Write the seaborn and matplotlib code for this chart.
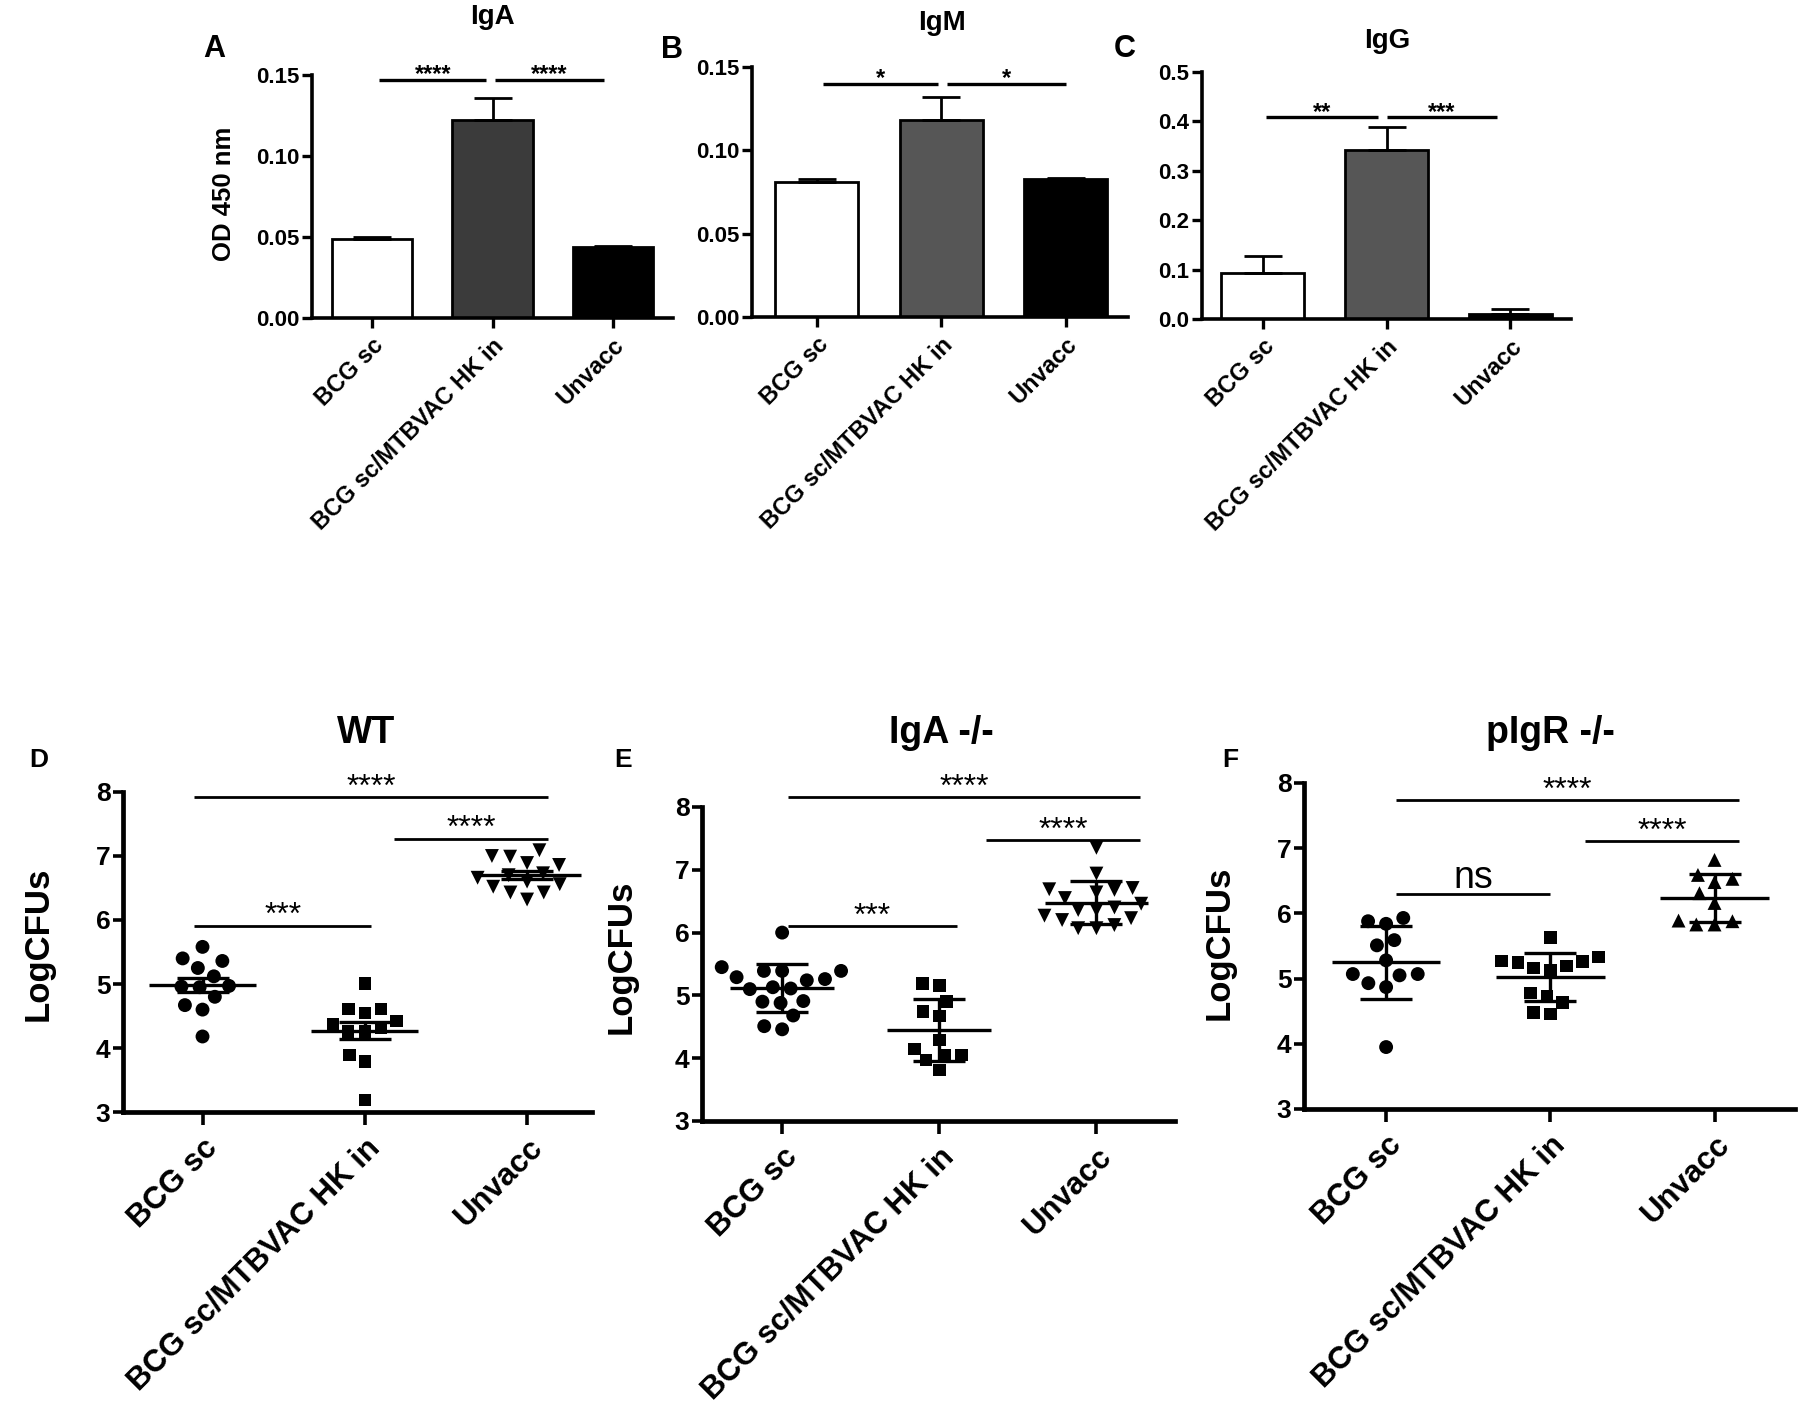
"""
Antibody ELISA (A-C) and lung CFU counts (D-F) by vaccination group.
"""
import numpy as np
import pandas as pd
import matplotlib
matplotlib.use("Agg")
import matplotlib.pyplot as plt
import seaborn as sns

sns.set_style("ticks")
plt.rcParams["font.family"] = ["Liberation Sans", "DejaVu Sans"]
plt.rcParams.update({
    "font.weight": "bold",
    "axes.edgecolor": "black",
    "text.color": "black",
    "xtick.color": "black",
    "ytick.color": "black",
    "axes.labelcolor": "black",
})

GROUPS = ["BCG sc", "BCG sc/MTBVAC HK in", "Unvacc"]

# ELISA OD 450 nm: bar heights and upper error
IGA_MEAN = [0.049, 0.122, 0.044]
IGA_ERR = [0.001, 0.014, 0.0007]
IGM_MEAN = [0.081, 0.118, 0.083]
IGM_ERR = [0.002, 0.014, 0.0006]
IGG_MEAN = [0.094, 0.343, 0.011]
IGG_ERR = [0.033, 0.046, 0.009]

# LogCFUs, individual animals
WT_BCG = [5.58, 5.40, 5.36, 5.25, 5.12, 4.97, 4.95, 4.96, 4.80, 4.67, 4.60, 4.18]
WT_MTB = [5.01, 4.61, 4.61, 4.55, 4.42, 4.37, 4.31, 4.26, 4.26, 3.89, 3.79, 3.19]
WT_UNV = [7.09, 6.99, 7.00, 6.86, 6.89, 6.73, 6.56, 6.43, 6.32, 6.43, 6.52, 6.60, 6.66, 6.70]

IGAKO_BCG = [6.00, 5.45, 5.39, 5.39, 5.39, 5.29, 5.24, 5.26, 5.13, 5.10, 5.11,
             4.90, 4.88, 4.91, 4.68, 4.46, 4.51]
IGAKO_MTB = [5.19, 5.16, 4.90, 4.74, 4.67, 4.29, 4.05, 4.15, 4.05, 3.97, 3.81]
IGAKO_UNV = [7.35, 6.94, 6.69, 6.64, 6.71, 6.68, 6.55, 6.46, 6.36, 6.20, 6.12,
             6.07, 6.07, 6.23, 6.27, 6.36, 6.40]

PIGR_BCG = [5.93, 5.84, 5.88, 5.59, 5.51, 5.28, 5.07, 4.93, 4.87, 5.05, 5.07, 3.95]
PIGR_MTB = [5.63, 5.33, 5.27, 5.26, 5.25, 5.19, 5.13, 5.16, 4.78, 4.73, 4.63, 4.46, 4.48]
PIGR_UNV = [6.82, 6.59, 6.53, 6.48, 6.31, 6.16, 5.88, 5.83, 5.83, 5.89]

W, H = 1805, 1402
fig = plt.figure(figsize=(W / 100, H / 100), dpi=100)


def px_axes(left, top, right, bottom):
    return fig.add_axes([left / W, 1 - bottom / H, (right - left) / W, (bottom - top) / H])


def ftext(x, y, s, va="baseline", **kw):
    fig.text(x / W, 1 - y / H, s, ha="center", va=va, **kw)


def add_sig(ax, x1, x2, y, label, lw, size, weight="bold", offset=0):
    ax.plot([x1, x2], [y, y], color="black", lw=lw, clip_on=False,
            solid_capstyle="butt", zorder=10)
    ax.annotate(label, xy=((x1 + x2) / 2, y), xytext=(0, offset), textcoords="offset points",
                ha="center", va="baseline", fontsize=size, fontweight=weight,
                annotation_clip=False)


def bar_panel(ax, means, errs, mid_color, ylim, yticks, fmt, xlim, sigs):
    colors = {GROUPS[0]: "white", GROUPS[1]: mid_color, GROUPS[2]: "black"}
    sns.barplot(x=GROUPS, y=means, hue=GROUPS, palette=colors, legend=False,
                saturation=1, width=0.67, edgecolor="black", linewidth=2,
                errorbar=None, ax=ax)
    ax.errorbar(np.arange(3), means, yerr=[np.zeros(3), errs], fmt="none",
                ecolor="black", elinewidth=2, capsize=14, capthick=2)
    ax.set_ylim(*ylim)
    ax.set_xlim(*xlim)
    ax.set_yticks(yticks)
    ax.set_yticklabels([fmt.format(v) for v in yticks])
    ax.set_xticks(range(3))
    ax.set_xticklabels(GROUPS, rotation=45, ha="right", rotation_mode="anchor")
    ax.tick_params(axis="y", labelsize=16, length=7.5, width=2.4, pad=1.5)
    ax.tick_params(axis="x", labelsize=17, length=7.5, width=2.4, pad=4)
    ax.set_xlabel("")
    ax.set_ylabel("")
    for s in ["top", "right"]:
        ax.spines[s].set_visible(False)
    for s in ["left", "bottom"]:
        ax.spines[s].set_linewidth(2.6)
    for x1, x2, y, label in sigs:
        add_sig(ax, x1, x2, y, label, lw=2.4, size=17, offset=-1)


def cfu_panel(ax, bcg, mtb, unv, up_marker, err_kind, xlim, sigs):
    df = pd.DataFrame({
        "group": [GROUPS[0]] * len(bcg) + [GROUPS[1]] * len(mtb) + [GROUPS[2]] * len(unv),
        "logcfu": bcg + mtb + unv,
    })
    markers = ["o", "s", up_marker]
    sizes = [10, 9, 10]
    # invisible edge width only widens the swarm spacing (GraphPad-like gaps)
    for g, m, sz in zip(GROUPS, markers, sizes):
        sns.swarmplot(data=df[df["group"] == g], x="group", y="logcfu", order=GROUPS,
                      marker=m, color="black", size=sz, linewidth=2.5,
                      edgecolor="none", ax=ax)
    stats = df.groupby("group", sort=False)["logcfu"].agg(["mean", "std", "count"])
    for i, g in enumerate(GROUPS):
        m = stats.loc[g, "mean"]
        e = stats.loc[g, "std"]
        if err_kind == "sem":
            e = e / np.sqrt(stats.loc[g, "count"])
        ax.hlines(m, i - 0.33, i + 0.33, color="black", lw=2.4, zorder=5)
        ax.errorbar(i, m, yerr=e, fmt="none", ecolor="black", elinewidth=2.4,
                    capsize=19, capthick=2.4, zorder=5)
    ax.set_ylim(3, 8)
    ax.set_xlim(*xlim)
    ax.set_yticks(range(3, 9))
    ax.set_xticks(range(3))
    ax.set_xticklabels(GROUPS, rotation=45, ha="right", rotation_mode="anchor")
    ax.tick_params(axis="y", labelsize=19, length=7.5, width=2.6, pad=1.5)
    ax.tick_params(axis="x", labelsize=22.5, length=9, width=2.6, pad=6)
    ax.set_xlabel("")
    ax.set_ylabel("")
    for s in ["top", "right"]:
        ax.spines[s].set_visible(False)
    for s in ["left", "bottom"]:
        ax.spines[s].set_linewidth(3.4)
    for x1, x2, y, label in sigs:
        if label == "ns":
            add_sig(ax, x1, x2, y, label, lw=2.0, size=27, weight="normal", offset=4)
        else:
            add_sig(ax, x1, x2, y, label, lw=2.0, size=23, weight="normal", offset=1)


# ---- top row: ELISA ----
ax_a = px_axes(312, 75, 673, 318)
bar_panel(ax_a, IGA_MEAN, IGA_ERR, "#3b3b3b", (0, 0.15), [0, 0.05, 0.10, 0.15], "{:.2f}",
          (-0.5, 2.5), [(0.06, 0.95, 0.147, "****"), (1.02, 1.93, 0.147, "****")])
ax_b = px_axes(752, 67, 1128, 317)
bar_panel(ax_b, IGM_MEAN, IGM_ERR, "#565656", (0, 0.15), [0, 0.05, 0.10, 0.15], "{:.2f}",
          (-0.52, 2.5), [(0.05, 0.97, 0.140, "*"), (1.05, 2.0, 0.140, "*")])
ax_c = px_axes(1202, 72, 1571, 319)
bar_panel(ax_c, IGG_MEAN, IGG_ERR, "#565656", (0, 0.5), [0, 0.1, 0.2, 0.3, 0.4, 0.5], "{:.1f}",
          (-0.49, 2.49), [(0.03, 0.93, 0.408, "**"), (1.0, 1.89, 0.408, "***")])

ftext(492, 24, "IgA", fontsize=20)
ftext(942, 30, "IgM", fontsize=20)
ftext(1387, 48, "IgG", fontsize=20)
ftext(214, 57, "A", fontsize=22)
ftext(672, 58, "B", fontsize=22)
ftext(1125, 57, "C", fontsize=22)
ftext(224, 194, "OD 450 nm", va="center", fontsize=18.5, rotation=90)

# ---- bottom row: CFUs ----
ax_d = px_axes(123, 792, 592, 1112)
cfu_panel(ax_d, WT_BCG, WT_MTB, WT_UNV, "v", "sem", (-0.49, 2.40),
          [(-0.05, 2.13, 7.92, "****"), (1.18, 2.13, 7.27, "****"), (-0.05, 1.04, 5.91, "***")])
ax_e = px_axes(702, 807, 1175, 1121)
cfu_panel(ax_e, IGAKO_BCG, IGAKO_MTB, IGAKO_UNV, "v", "sd", (-0.51, 2.50),
          [(0.04, 2.28, 8.16, "****"), (1.30, 2.28, 7.47, "****"), (0.04, 1.11, 6.10, "***")])
ax_f = px_axes(1304, 783, 1795, 1109)
cfu_panel(ax_f, PIGR_BCG, PIGR_MTB, PIGR_UNV, "^", "sd", (-0.5, 2.49),
          [(0.06, 2.15, 7.74, "****"), (1.21, 2.15, 7.11, "****"), (0.06, 1.0, 6.30, "ns")])

ftext(366, 743, "WT", fontsize=27)
ftext(941, 743, "IgA -/-", fontsize=27)
ftext(1550, 743, "pIgR -/-", fontsize=27)
ftext(39, 767, "D", fontsize=19)
ftext(623, 767, "E", fontsize=19)
ftext(1230, 767, "F", fontsize=19)
ftext(38, 944, "LogCFUs", va="center", fontsize=25, rotation=90)
ftext(621, 957, "LogCFUs", va="center", fontsize=25, rotation=90)
ftext(1219, 943, "LogCFUs", va="center", fontsize=25, rotation=90)

fig.savefig("out.png", dpi=100, facecolor="white")
